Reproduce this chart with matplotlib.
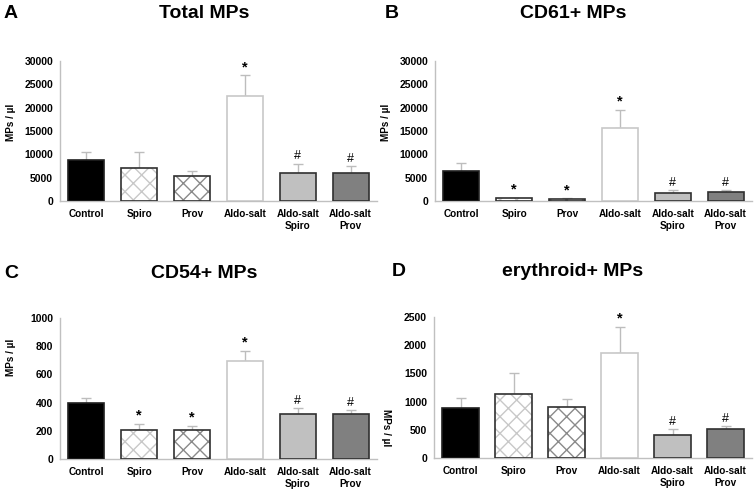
import numpy as np
import matplotlib
matplotlib.use('Agg')
import matplotlib.pyplot as plt

plt.rcParams['font.family'] = ['Liberation Sans', 'DejaVu Sans']
plt.rcParams['font.weight'] = 'bold'

groups = ['Control', 'Spiro', 'Prov', 'Aldo-salt', 'Aldo-salt\nSpiro', 'Aldo-salt\nProv']

total_mean = [8700, 7100, 5400, 22400, 6100, 6100]
total_err = [1800, 3300, 1000, 4500, 1900, 1300]
total_sig = ['', '', '', '*', '#', '#']

cd61_mean = [6400, 600, 400, 15600, 1700, 1900]
cd61_err = [1700, 100, 150, 4000, 600, 400]
cd61_sig = ['', '*', '*', '*', '#', '#']

cd54_mean = [395, 205, 205, 695, 322, 322]
cd54_err = [35, 45, 30, 70, 38, 23]
cd54_sig = ['', '*', '*', '*', '#', '#']

ery_mean = [880, 1140, 900, 1860, 410, 520]
ery_err = [180, 370, 150, 460, 105, 47]
ery_sig = ['', '', '', '*', '#', '#']

face = ['black', 'white', 'white', 'white', '#c0c0c0', '#808080']
edge = ['#202020', '#303030', '#303030', '#c8c8c8', '#303030', '#303030']
hatch = [None, 'xx', 'xx', None, None, None]
hatch_col = [None, '#c8c8c8', '#8a8a8a', None, None, None]

fig = plt.figure(figsize=(7.55, 4.91), dpi=100)


def panel(rect, mean, err, sig, ymax, step, title, letter, tx, ty, lx, lab_pos):
    ax = fig.add_axes(rect)
    x = np.arange(len(groups))
    w = 0.68
    for i in range(len(groups)):
        if hatch[i]:
            ax.bar(x[i], mean[i], w, color='white', edgecolor=hatch_col[i],
                   hatch=hatch[i], linewidth=0, zorder=2)
            ax.bar(x[i], mean[i], w, fill=False, edgecolor=edge[i], linewidth=1.2, zorder=3)
        else:
            ax.bar(x[i], mean[i], w, color=face[i], edgecolor=edge[i], linewidth=1.2, zorder=3)
    ax.errorbar(x, mean, yerr=[np.zeros(len(mean)), err], fmt='none',
                ecolor='#bdbdbd', elinewidth=1, capsize=3.5, capthick=1, zorder=1)
    for i, s in enumerate(sig):
        if s:
            ax.annotate(s, (x[i], mean[i] + err[i]), xytext=(0, 1), textcoords='offset points',
                        ha='center', va='bottom',
                        fontsize=10.5 if s == '*' else 9,
                        fontweight='bold' if s == '*' else 'normal')
    ax.set_xlim(-0.5, 5.5)
    ax.set_ylim(0, ymax)
    ax.set_yticks(np.arange(0, ymax + 1, step))
    ax.set_xticks(x)
    ax.set_xticklabels(groups, fontsize=7.2, fontweight='bold', linespacing=1.15)
    ax.tick_params(axis='both', length=0)
    ax.tick_params(axis='y', pad=5, labelsize=7.5)
    ax.tick_params(axis='x', pad=6)
    for t in ax.get_yticklabels():
        t.set_fontweight('bold')
    for sp in ['top', 'right']:
        ax.spines[sp].set_visible(False)
    for sp in ['left', 'bottom']:
        ax.spines[sp].set_color('#c0c0c0')
        ax.spines[sp].set_linewidth(1)
    fig.text(tx, ty, title, fontsize=14, fontweight='bold', ha='center', va='center')
    fig.text(lx, ty, letter, fontsize=14, fontweight='bold', ha='left', va='center')
    fx, fy, rot = lab_pos
    fig.text(fx, fy, 'MPs / µl', fontsize=7.2, fontweight='bold', rotation=rot,
             ha='center', va='center')
    return ax


H = 491.0
W = 755.0
panel([60 / W, 1 - 201 / H, 317 / W, 140 / H], total_mean, total_err, total_sig,
      30000, 5000, 'Total MPs', 'A', 204 / W, 1 - 13 / H, 4 / W, (11 / W, 1 - 122 / H, 90))
panel([435 / W, 1 - 201 / H, 317 / W, 140 / H], cd61_mean, cd61_err, cd61_sig,
      30000, 5000, 'CD61+ MPs', 'B', 573 / W, 1 - 13 / H, 385 / W, (386 / W, 1 - 122 / H, 90))
panel([60 / W, 1 - 459 / H, 317 / W, 141 / H], cd54_mean, cd54_err, cd54_sig,
      1000, 200, 'CD54+ MPs', 'C', 204 / W, 1 - 273 / H, 4 / W, (11 / W, 1 - 357 / H, 90))
panel([434 / W, 1 - 458 / H, 318 / W, 141 / H], ery_mean, ery_err, ery_sig,
      2500, 500, 'erythroid+ MPs', 'D', 573 / W, 1 - 271 / H, 392 / W, (386 / W, 1 - 428 / H, 270))

fig.savefig('out.png', dpi=100)
